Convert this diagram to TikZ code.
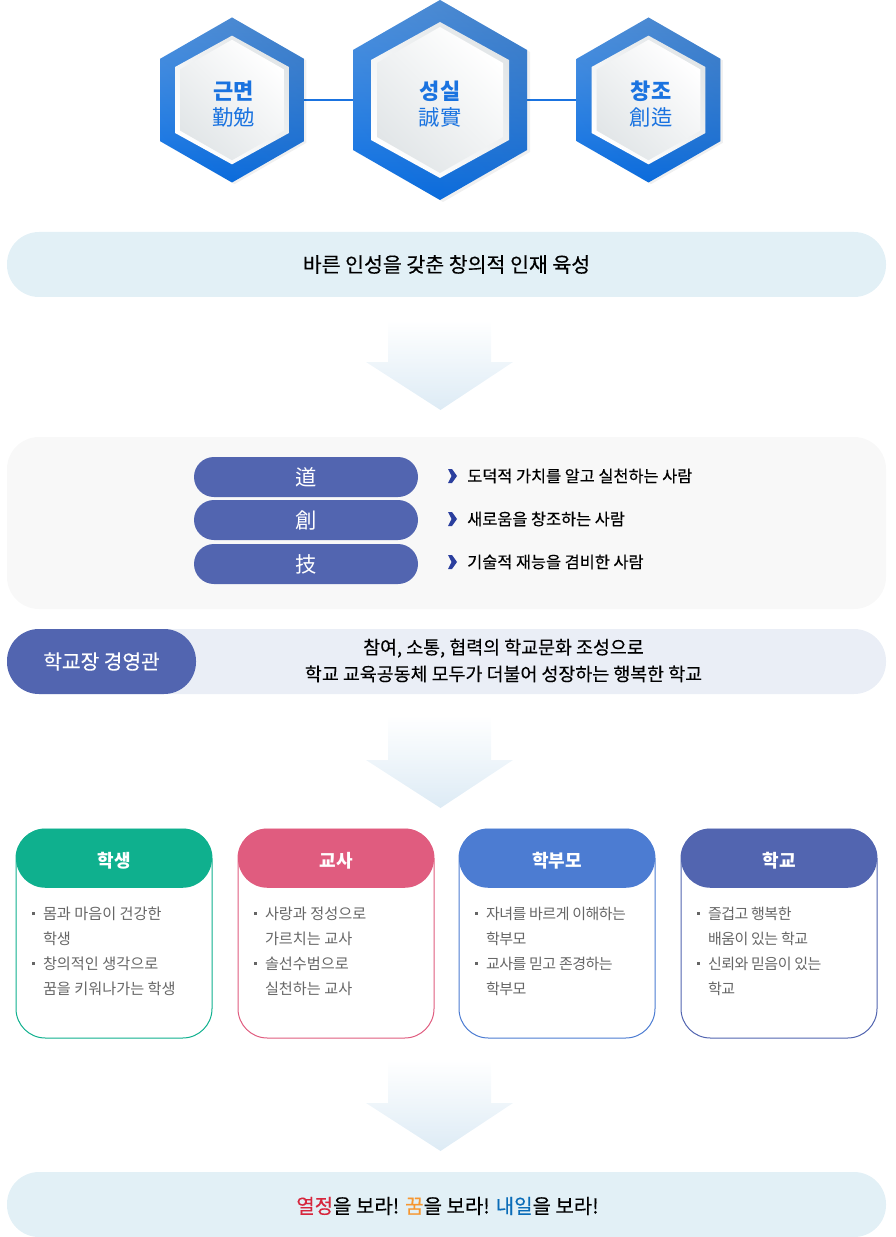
\documentclass[tikz,border=0pt]{standalone}
\usepackage{fontspec}
\usetikzlibrary{fadings,positioning}
\setmainfont{Noto Sans CJK KR}
\newfontfamily\krmid[FakeBold=0.25]{Noto Sans CJK KR}
\definecolor{hexblue}{HTML}{1A73E0}
\definecolor{hextop}{HTML}{5A9EEA}
\definecolor{hexmid}{HTML}{2A7ADF}
\definecolor{hexlow}{HTML}{0A6DE0}
\definecolor{hexdark}{HTML}{2A5C9C}
\definecolor{hexgray}{HTML}{E2E6E8}
\definecolor{indigo}{HTML}{5265B0}
\definecolor{chevblue}{HTML}{2B3F9E}
\definecolor{paleblue}{HTML}{E2F0F6}
\definecolor{arrowblue}{HTML}{DDEBF5}
\definecolor{palelav}{HTML}{EAEEF6}
\definecolor{panelgray}{HTML}{F8F8F8}
\definecolor{bodygray}{HTML}{666666}
\definecolor{green01}{HTML}{0FB08E}
\definecolor{rose01}{HTML}{E05C7F}
\definecolor{blue01}{HTML}{4C7CD2}
\tikzfading[name=fade ne, top color=transparent!20, middle color=transparent!100, bottom color=transparent!100, shading angle=-45]
\tikzstyle{hex box} = [%
	inner sep=0pt,
	outer sep=0pt
]
\tikzstyle{hex label} = [%
	inner sep=0pt,
	align=center,
	text=hexblue,
	font=\fontsize{16}{20}\selectfont
]
\tikzstyle{wide bar} = [%
	inner sep=0pt,
	outer sep=0pt,
	minimum width=659.25pt,
	minimum height=48.75pt,
	rounded corners=24pt,
	align=center,
	font=\krmid\fontsize{15.4}{20}\selectfont
]
\tikzstyle{hanja pill} = [%
	fill=indigo,
	inner sep=0pt,
	minimum width=168pt,
	minimum height=30pt,
	rounded corners=15pt,
	text=white,
	font=\fontsize{16}{20}\selectfont
]
\tikzstyle{person} = [%
	anchor=west,
	inner sep=0pt,
	font=\krmid\fontsize{12.25}{16}\selectfont
]
\tikzstyle{card} = [%
	fill=white,
	line width=.75pt,
	inner sep=0pt,
	minimum width=147pt,
	minimum height=156.75pt,
	rounded corners=22pt
]
\tikzstyle{card head} = [%
	anchor=north,
	inner sep=0pt,
	minimum width=147pt,
	minimum height=44.25pt,
	rounded corners=22pt,
	text=white,
	text height=14.8pt,
	text depth=1.5pt,
	font=\bfseries\fontsize{13.5}{18}\selectfont
]
\tikzstyle{card list} = [%
	anchor=north west,
	inner sep=0pt,
	align=left,
	text=bodygray,
	font=\fontsize{11.4}{18.75}\selectfont
]
\tikzstyle{tight list} = [%
	card list,
	font=\addfontfeature{LetterSpace=-3.5}\fontsize{11.25}{18.75}\selectfont
]
\newcommand{\hexpath}[3]{(0,-#2) -- (#1,-#3) -- (#1,#3) -- (0,#2) -- (-#1,#3) -- (-#1,-#3) -- cycle}
\newcommand{\hexstack}[2]{%
	\begin{scope}[shift={(#1,100)},scale=#2]
		\fill[black,opacity=.06] [shift={(3,2)}] \hexpath{87}{100}{50};
		\shade[top color=hextop,middle color=hexmid,bottom color=hexlow] \hexpath{87}{100}{50};
		\fill[hexdark,opacity=.45,path fading=fade ne] \hexpath{87}{100}{50};
		\shade[top color=hexgray,bottom color=white,shading angle=-45] \hexpath{69}{78}{40};
		\shade[top color=white,bottom color=hexgray,shading angle=-45] \hexpath{63}{73}{37};
	\end{scope}
}
\newcommand{\downshape}[2]{%
	\shade[top color=white,bottom color=arrowblue]
	  (388,#1) -- (491,#1) -- (491,#2) -- (513,#2) -- (440.5,#2+48) -- (366,#2) -- (388,#2) -- cycle;
}
\newcommand{\chevron}[1]{%
	\fill[chevblue] (448,#1-7) -- (452,#1-7) -- (457,#1) -- (452,#1+7) -- (448,#1+7) -- (451.5,#1) -- cycle;
}
\newcommand{\sqmark}{\makebox[8.25pt][l]{\raisebox{3.6pt}{\rule{2.25pt}{2.25pt}}}}
\newcommand{\nomark}{\hspace*{8.25pt}}

\begin{document}
\begin{tikzpicture}[x=.75pt,y=-.75pt]
\useasboundingbox (0,0) rectangle (895,1237);

% three virtues
\node[hex box, minimum width=107.25pt, minimum height=124.5pt] (geun) at (232,100) {};
\node[hex box, minimum width=130.5pt, minimum height=150pt] (seong) at (440,100) {};
\node[hex box, minimum width=107.25pt, minimum height=124.5pt] (chang) at (648.5,100) {};
\draw[hexblue, line width=1.5pt] (geun.east) -- (seong.west);
\draw[hexblue, line width=1.5pt] (seong.east) -- (chang.west);
\hexstack{232}{.825}
\hexstack{440}{1}
\hexstack{648.5}{.825}
\node[hex label] (geun text) at ([xshift=1pt,yshift=-3pt] geun.center) {%
	{\bfseries\fontsize{16.5}{20}\selectfont 근면}\\[-1pt]勤勉
};
\node[hex label] (seong text) at ([yshift=-3pt] seong.center) {%
	{\bfseries\fontsize{16.5}{20}\selectfont 성실}\\[-1pt]誠實
};
\node[hex label] (chang text) at ([xshift=2pt,yshift=-3pt] chang.center) {%
	{\bfseries\fontsize{16.5}{20}\selectfont 창조}\\[-1pt]創造
};

% goal
\node[wide bar, fill=paleblue] (goal) at (446.5,264.5) {바른 인성을 갖춘 창의적 인재 육성};
\downshape{320}{362}

% talent panel
\node[wide bar, fill=panelgray, minimum height=129pt] (panel) at (446.5,523) {};
\node[hanja pill] (dao) at (306,477) {道};
\node[hanja pill] (cre) at (306,520) {創};
\node[hanja pill] (skill) at (306,564) {技};
\chevron{476}
\chevron{519}
\chevron{562}
\node[person] (dao text) at (467,476) {도덕적 가치를 알고 실천하는 사람};
\node[person] (cre text) at (467,519) {새로움을 창조하는 사람};
\node[person] (skill text) at (467,562) {기술적 재능을 겸비한 사람};

% management
\node[wide bar, fill=palelav] (vision) at (446.5,661.5) {};
\node[wide bar, fill=indigo, minimum width=141.75pt, text=white, font=\krmid\fontsize{15.2}{20}\selectfont] (head) at (101.5,661.5) {학교장 경영관};
\node[inner sep=0pt, align=center, font=\krmid\fontsize{13.8}{20}\selectfont] (vision text) at (503.5,660.5) {%
	참여, 소통, 협력의 학교문화 조성으로\\
	학교 교육공동체 모두가 더불어 성장하는 행복한 학교
};
\downshape{715}{760}

% four cards
\node[card, draw=green01] (student) at (114,933.5) {};
\node[card head, fill=green01] (student head) at (student.north) {학생};
\node[card list] (student list) at ([xshift=12pt,yshift=-14.25pt] student head.south west) {%
	\sqmark 몸과 마음이 건강한\\ \nomark 학생\\
	\sqmark 창의적인 생각으로\\ \nomark 꿈을 키워나가는 학생
};
\node[card, draw=rose01] (teacher) at (336,933.5) {};
\node[card head, fill=rose01] (teacher head) at (teacher.north) {교사};
\node[card list] (teacher list) at ([xshift=12pt,yshift=-14.25pt] teacher head.south west) {%
	\sqmark 사랑과 정성으로\\ \nomark 가르치는 교사\\
	\sqmark 솔선수범으로\\ \nomark 실천하는 교사
};
\node[card, draw=blue01] (parent) at (557,933.5) {};
\node[card head, fill=blue01] (parent head) at (parent.north) {학부모};
\node[tight list] (parent list) at ([xshift=12pt,yshift=-14.25pt] parent head.south west) {%
	\sqmark 자녀를 바르게 이해하는\\ \nomark 학부모\\
	\sqmark 교사를 믿고 존경하는\\ \nomark 학부모
};
\node[card, draw=indigo] (school) at (779,933.5) {};
\node[card head, fill=indigo] (school head) at (school.north) {학교};
\node[tight list] (school list) at ([xshift=12pt,yshift=-14.25pt] school head.south west) {%
	\sqmark 즐겁고 행복한\\ \nomark 배움이 있는 학교\\
	\sqmark 신뢰와 믿음이 있는\\ \nomark 학교
};
\downshape{1060}{1103}

% closing line
\node[wide bar, fill=paleblue, text height=15.2pt, text depth=1.8pt, font=\krmid\fontsize{15}{20}\selectfont] (closing) at (446.5,1204.5) {%
	\hspace*{6pt}\textcolor[HTML]{D7263D}{열정}을 보라! \textcolor[HTML]{F7962F}{꿈}을 보라! \textcolor[HTML]{0A6CB8}{내일}을 보라!
};

\end{tikzpicture}
\end{document}
